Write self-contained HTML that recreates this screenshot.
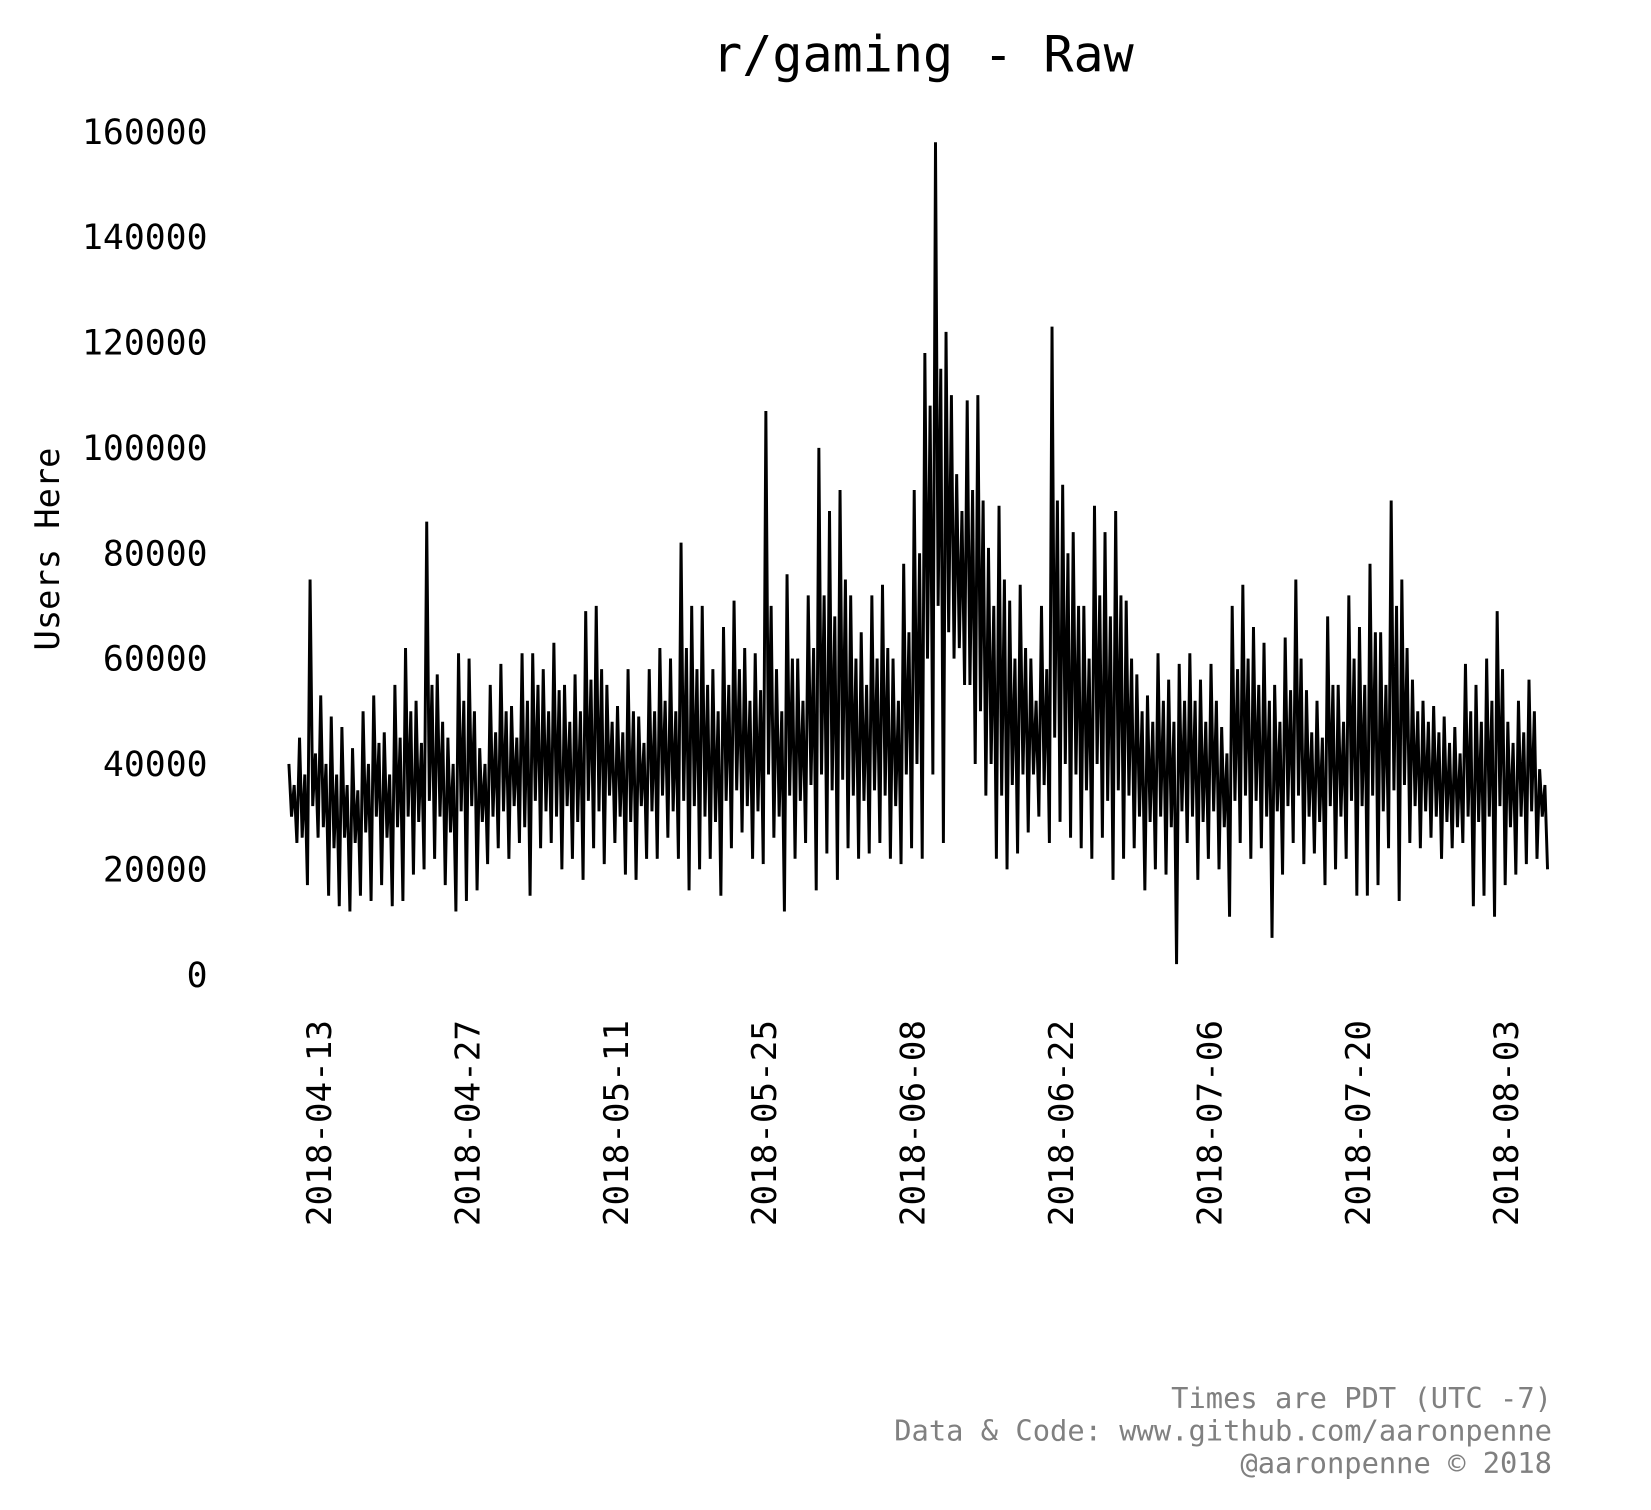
<!DOCTYPE html>
<html><head><meta charset="utf-8"><style>
html,body{margin:0;padding:0;background:#fff;}
svg{display:block;}
text{font-family:"DejaVu Sans Mono","Liberation Mono",monospace;}
</style></head><body>
<svg id="chart" width="1651" height="1510" viewBox="0 0 1567 1433" preserveAspectRatio="none" xmlns="http://www.w3.org/2000/svg">
<rect width="1567" height="1433" fill="#fff"/>
<text x="876" y="68" font-size="47.5" text-anchor="middle">r/gaming - Raw</text>
<text transform="translate(56,521) rotate(-90)" font-size="32" text-anchor="middle">Users Here</text>
<g id="yticks"></g><g id="xticks"></g>
<path id="series" fill="none" stroke="#000" stroke-width="2.8" stroke-linejoin="miter"/>
<g fill="#808080" font-size="27.3" text-anchor="end">
<text x="1473" y="1336">Times are PDT (UTC -7)</text>
<text x="1473" y="1367">Data &amp; Code: www.github.com/aaronpenne</text>
<text x="1473" y="1398">@aaronpenne © 2018</text>
</g>
</svg>
<script>
const yTicks=[0,20000,40000,60000,80000,100000,120000,140000,160000];
const xTickLabels=["2018-04-13","2018-04-27","2018-05-11","2018-05-25","2018-06-08","2018-06-22","2018-07-06","2018-07-20","2018-08-03"];
const xTickDays=[3,17,31,45,59,73,87,101,115];
// daily values (thousands), day 0 = 2018-04-10
const peaks=[40,45,75,53,49,47,43, 50,53,46,55,62,52,86, 57,45,61,60,43,55,59, 51,61,61,58,63,55,57, 69,70,55,51,58,49,58, 62,60,82,70,70,58,66, 71,62,61,107,58,76,60, 72,100,88,92,72,65,72, 74,60,78,92,118,158,122, 95,109,110,81,89,71,74, 60,70,123,93,84,70,89, 84,88,71,57,53,61,56, 59,61,56,59,47,70,74, 66,63,55,64,75,54,52, 68,55,72,66,78,65,90, 75,56,52,51,49,47,59, 55,60,69,48,52,56,39];
const dips=[30,26,32,28,24,26,25, 27,30,26,28,30,29,33, 30,27,31,32,29,30,31, 32,28,33,31,30,32,29, 33,31,34,30,29,32,31, 34,31,33,32,30,29,33, 35,32,31,38,30,34,33, 36,38,35,37,34,33,35, 34,32,38,40,60,70,65, 62,55,50,40,34,36,38, 38,36,45,40,38,35,40, 33,35,34,30,29,30,28, 31,30,29,31,28,33,34, 33,30,31,32,34,30,29, 32,30,33,32,34,31,35, 36,32,31,30,29,28,30, 29,30,32,28,30,31,30];
const peaks2=[36,38,42,40,38,36,35, 40,44,38,45,50,44,55, 48,40,52,50,40,46,50, 45,52,55,50,54,48,50, 56,58,48,46,50,44,50, 52,50,62,58,55,50,55, 58,52,54,70,50,60,52, 62,72,68,75,60,55,60, 62,52,65,80,108,115,110, 88,92,90,70,75,60,62, 52,58,90,80,70,60,72, 68,72,60,50,48,52,48, 52,52,48,52,42,58,60, 55,52,48,54,60,46,45, 55,48,60,55,65,55,70, 62,50,48,46,44,42,50, 48,52,58,44,46,50,36];
const troughs=[25,17,26,15,13,12,15, 14,17,13,14,19,20,22, 17,12,14,16,21,24,22, 25,15,24,25,20,22,18, 24,21,25,19,18,22,22, 26,22,16,20,22,15,24, 27,22,21,26,12,22,25, 16,23,18,24,22,23,25, 22,21,24,22,38,25,60, 55,40,34,22,20,23,27, 30,25,29,26,24,22,26, 18,22,24,16,20,19,2, 25,18,22,20,11,25,22, 24,7,19,25,21,23,17, 20,22,15,15,17,24,14, 25,24,26,22,24,25,13, 15,11,17,19,21,22,20];
const NS="http://www.w3.org/2000/svg";
function yS(v){return 925-v/200;}
function xS(d){return 273+d*10.06;}
const yg=document.getElementById('yticks');
yTicks.forEach(v=>{const t=document.createElementNS(NS,'text');


t.setAttribute('x',197);t.setAttribute('y',yS(v)+11.5);t.setAttribute('font-size','33');t.setAttribute('text-anchor','end');t.textContent=v;yg.appendChild(t);});
const xg=document.getElementById('xticks');
xTickLabels.forEach((l,i)=>{const t=document.createElementNS(NS,'text');


const x=xS(xTickDays[i])+11;t.setAttribute('transform','translate('+x+',968) rotate(-90)');t.setAttribute('font-size','32.5');t.setAttribute('text-anchor','end');t.textContent=l;xg.appendChild(t);});
let d='';
peaks.forEach((p,i)=>{
d+=(i?'L':'M')+xS(i+0.12).toFixed(1)+','+yS(p*1000).toFixed(1);
d+='L'+xS(i+0.37).toFixed(1)+','+yS(dips[i]*1000).toFixed(1);
d+='L'+xS(i+0.62).toFixed(1)+','+yS(peaks2[i]*1000).toFixed(1);
d+='L'+xS(i+0.87).toFixed(1)+','+yS(troughs[i]*1000).toFixed(1);
});
document.getElementById('series').setAttribute('d',d);
</script>
</body></html>
